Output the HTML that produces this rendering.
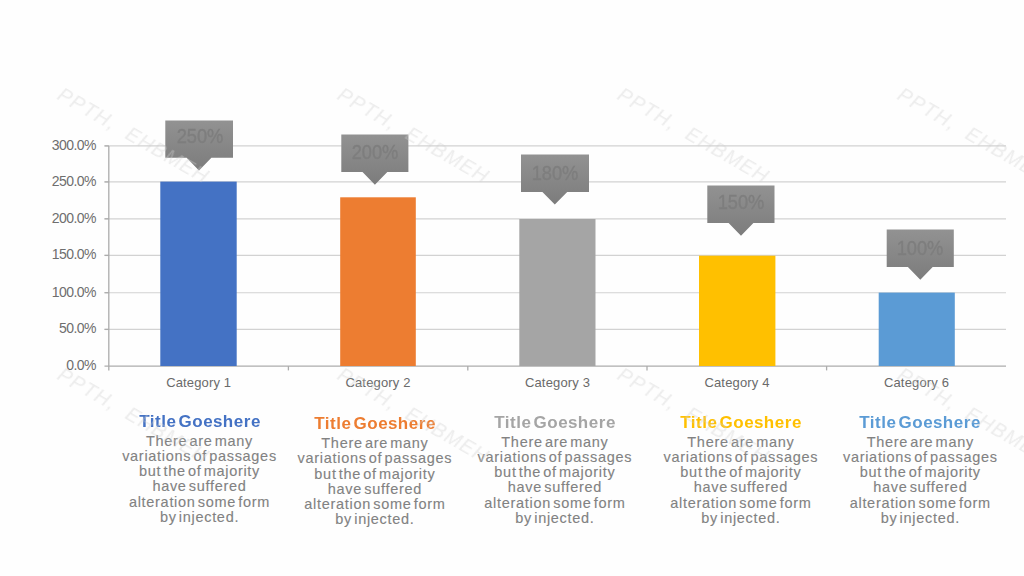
<!DOCTYPE html>
<html>
<head>
<meta charset="utf-8">
<title>Chart</title>
<style>
html,body{margin:0;padding:0;background:#fefefe;}
body{width:1024px;height:576px;position:relative;overflow:hidden;font-family:"Liberation Sans",sans-serif;}
svg{position:absolute;left:0;top:0;}
.yl{position:absolute;left:40px;width:55.6px;text-align:right;font-size:14px;line-height:14px;color:#6e6e6e;letter-spacing:-0.55px;margin-left:0.3px;}
.cl{position:absolute;width:120px;text-align:center;font-size:13px;line-height:14px;color:#6a6a6a;letter-spacing:0.15px;}
.co{position:absolute;width:68px;text-align:center;font-size:21px;line-height:20px;color:#7e7e7e;transform:scaleX(0.87);-webkit-text-stroke:0.4px #7e7e7e;}
.blk{position:absolute;width:190px;text-align:center;}
.blk h3{margin:0;font-size:16px;line-height:18px;font-weight:bold;letter-spacing:0.5px;word-spacing:-3px;transform:scaleX(1.062);}
.blk h3 span{margin-left:-2.2px;}
.blk p{margin:3.1px 0 0 0;font-size:14.5px;line-height:15.2px;color:#828282;letter-spacing:0.7px;word-spacing:-2.5px;-webkit-text-stroke:0.12px #828282;}
.wm{position:absolute;font-size:20px;line-height:22px;color:rgba(208,208,208,0.38);font-weight:normal;font-style:italic;white-space:nowrap;transform-origin:0 0;transform:rotate(30deg);letter-spacing:1.2px;filter:blur(0.6px);}
</style>
</head>
<body>


<svg width="1024" height="576" viewBox="0 0 1024 576">
  <!-- gridlines -->
  <g stroke="#d2d2d2" stroke-width="1.15" fill="none">
    <line x1="104.5" y1="145.9" x2="1006" y2="145.9"/>
    <line x1="104.5" y1="181.9" x2="1006" y2="181.9"/>
    <line x1="104.5" y1="218.8" x2="1006" y2="218.8"/>
    <line x1="104.5" y1="255.4" x2="1006" y2="255.4"/>
    <line x1="104.5" y1="292.7" x2="1006" y2="292.7"/>
    <line x1="104.5" y1="329.4" x2="1006" y2="329.4"/>
  </g>
  <!-- axes -->
  <g stroke="#acacac" stroke-width="1.3" fill="none">
    <line x1="108.8" y1="145.9" x2="108.8" y2="370.4"/>
    <line x1="104.5" y1="366.1" x2="1006" y2="366.1"/>
    <line x1="104.5" y1="145.9" x2="108.9" y2="145.9"/>
    <line x1="104.5" y1="181.9" x2="108.9" y2="181.9"/>
    <line x1="104.5" y1="218.8" x2="108.9" y2="218.8"/>
    <line x1="104.5" y1="255.4" x2="108.9" y2="255.4"/>
    <line x1="104.5" y1="292.7" x2="108.9" y2="292.7"/>
    <line x1="104.5" y1="329.4" x2="108.9" y2="329.4"/>
    <line x1="288.4" y1="366.1" x2="288.4" y2="370.4"/>
    <line x1="467.8" y1="366.1" x2="467.8" y2="370.4"/>
    <line x1="647" y1="366.1" x2="647" y2="370.4"/>
    <line x1="826.6" y1="366.1" x2="826.6" y2="370.4"/>
  </g>
  <!-- bars -->
  <rect x="160.3" y="181.6" width="76.4" height="184.4" fill="#4472c4"/>
  <rect x="340.2" y="197.3" width="75.6" height="168.7" fill="#ed7d31"/>
  <rect x="519.3" y="219" width="76.2" height="147" fill="#a5a5a5"/>
  <rect x="699" y="255.7" width="76.4" height="110.3" fill="#ffc000"/>
  <rect x="878.7" y="292.6" width="76.1" height="73.4" fill="#5b9bd5"/>
  <!-- callouts -->
  <defs><linearGradient id="cg" x1="0" y1="0" x2="0" y2="1"><stop offset="0" stop-color="#929292"/><stop offset="1" stop-color="#7c7c7c"/></linearGradient></defs>
  <g fill="url(#cg)">
    <path d="M165.3 120.4H233V157.8H211.4L199 170.5L186.6 157.8H165.3Z"/>
    <path d="M341.3 134.5H408.4V172H387.3L374.9 184.7L362.5 172H341.3Z"/>
    <path d="M521 154.4H589V191.9H567.2L554.8 204.6L542.4 191.9H521Z"/>
    <path d="M707.3 185.4H774.5V223.1H753.4L741 235.8L728.6 223.1H707.3Z"/>
    <path d="M886.7 229.6H953.8V267.1H932.7L920.3 279.8L907.9 267.1H886.7Z"/>
  </g>
</svg>

<!-- y axis labels -->
<div class="yl" style="top:137.8px;">300.0%</div>
<div class="yl" style="top:174.1px;">250.0%</div>
<div class="yl" style="top:210.5px;">200.0%</div>
<div class="yl" style="top:247.4px;">150.0%</div>
<div class="yl" style="top:284.7px;">100.0%</div>
<div class="yl" style="top:321.4px;">50.0%</div>
<div class="yl" style="top:358.1px;">0.0%</div>

<!-- category labels -->
<div class="cl" style="left:138.7px;top:376px;">Category 1</div>
<div class="cl" style="left:318px;top:376px;">Category 2</div>
<div class="cl" style="left:497.5px;top:376px;">Category 3</div>
<div class="cl" style="left:677px;top:376px;">Category 4</div>
<div class="cl" style="left:856.5px;top:376px;">Category 6</div>

<!-- callout text -->
<div class="co" style="left:165.6px;top:126.4px;">250%</div>
<div class="co" style="left:341.4px;top:141.8px;">200%</div>
<div class="co" style="left:521.2px;top:162.5px;">180%</div>
<div class="co" style="left:707.2px;top:192.1px;">150%</div>
<div class="co" style="left:885.6px;top:237.7px;">100%</div>

<!-- text blocks -->
<div class="blk" style="left:104.5px;top:412.7px;">
  <h3 style="color:#4472c4;">Title Goes<span> here</span></h3>
  <p>There are many<br>variations of passages<br>but the of majority<br>have suffered<br>alteration some form<br>by injected.</p>
</div>
<div class="blk" style="left:279.9px;top:415px;">
  <h3 style="color:#ed7d31;">Title Goes<span> here</span></h3>
  <p>There are many<br>variations of passages<br>but the of majority<br>have suffered<br>alteration some form<br>by injected.</p>
</div>
<div class="blk" style="left:459.9px;top:413.7px;">
  <h3 style="color:#a5a5a5;">Title Goes<span> here</span></h3>
  <p>There are many<br>variations of passages<br>but the of majority<br>have suffered<br>alteration some form<br>by injected.</p>
</div>
<div class="blk" style="left:645.9px;top:413.7px;">
  <h3 style="color:#ffc000;">Title Goes<span> here</span></h3>
  <p>There are many<br>variations of passages<br>but the of majority<br>have suffered<br>alteration some form<br>by injected.</p>
</div>
<div class="blk" style="left:825.3px;top:413.7px;">
  <h3 style="color:#5b9bd5;">Title Goes<span> here</span></h3>
  <p>There are many<br>variations of passages<br>but the of majority<br>have suffered<br>alteration some form<br>by injected.</p>
</div>

<!-- watermarks (overlay) -->
<div class="wm" style="left:65px;top:83px;">PPTH,  EHBMEH</div>
<div class="wm" style="left:345px;top:83px;">PPTH,  EHBMEH</div>
<div class="wm" style="left:625px;top:83px;">PPTH,  EHBMEH</div>
<div class="wm" style="left:905px;top:83px;">PPTH,  EHBMEH</div>
<div class="wm" style="left:65px;top:363px;">PPTH,  EHBMEH</div>
<div class="wm" style="left:345px;top:363px;">PPTH,  EHBMEH</div>
<div class="wm" style="left:625px;top:363px;">PPTH,  EHBMEH</div>
<div class="wm" style="left:905px;top:363px;">PPTH,  EHBMEH</div>

</body>
</html>
